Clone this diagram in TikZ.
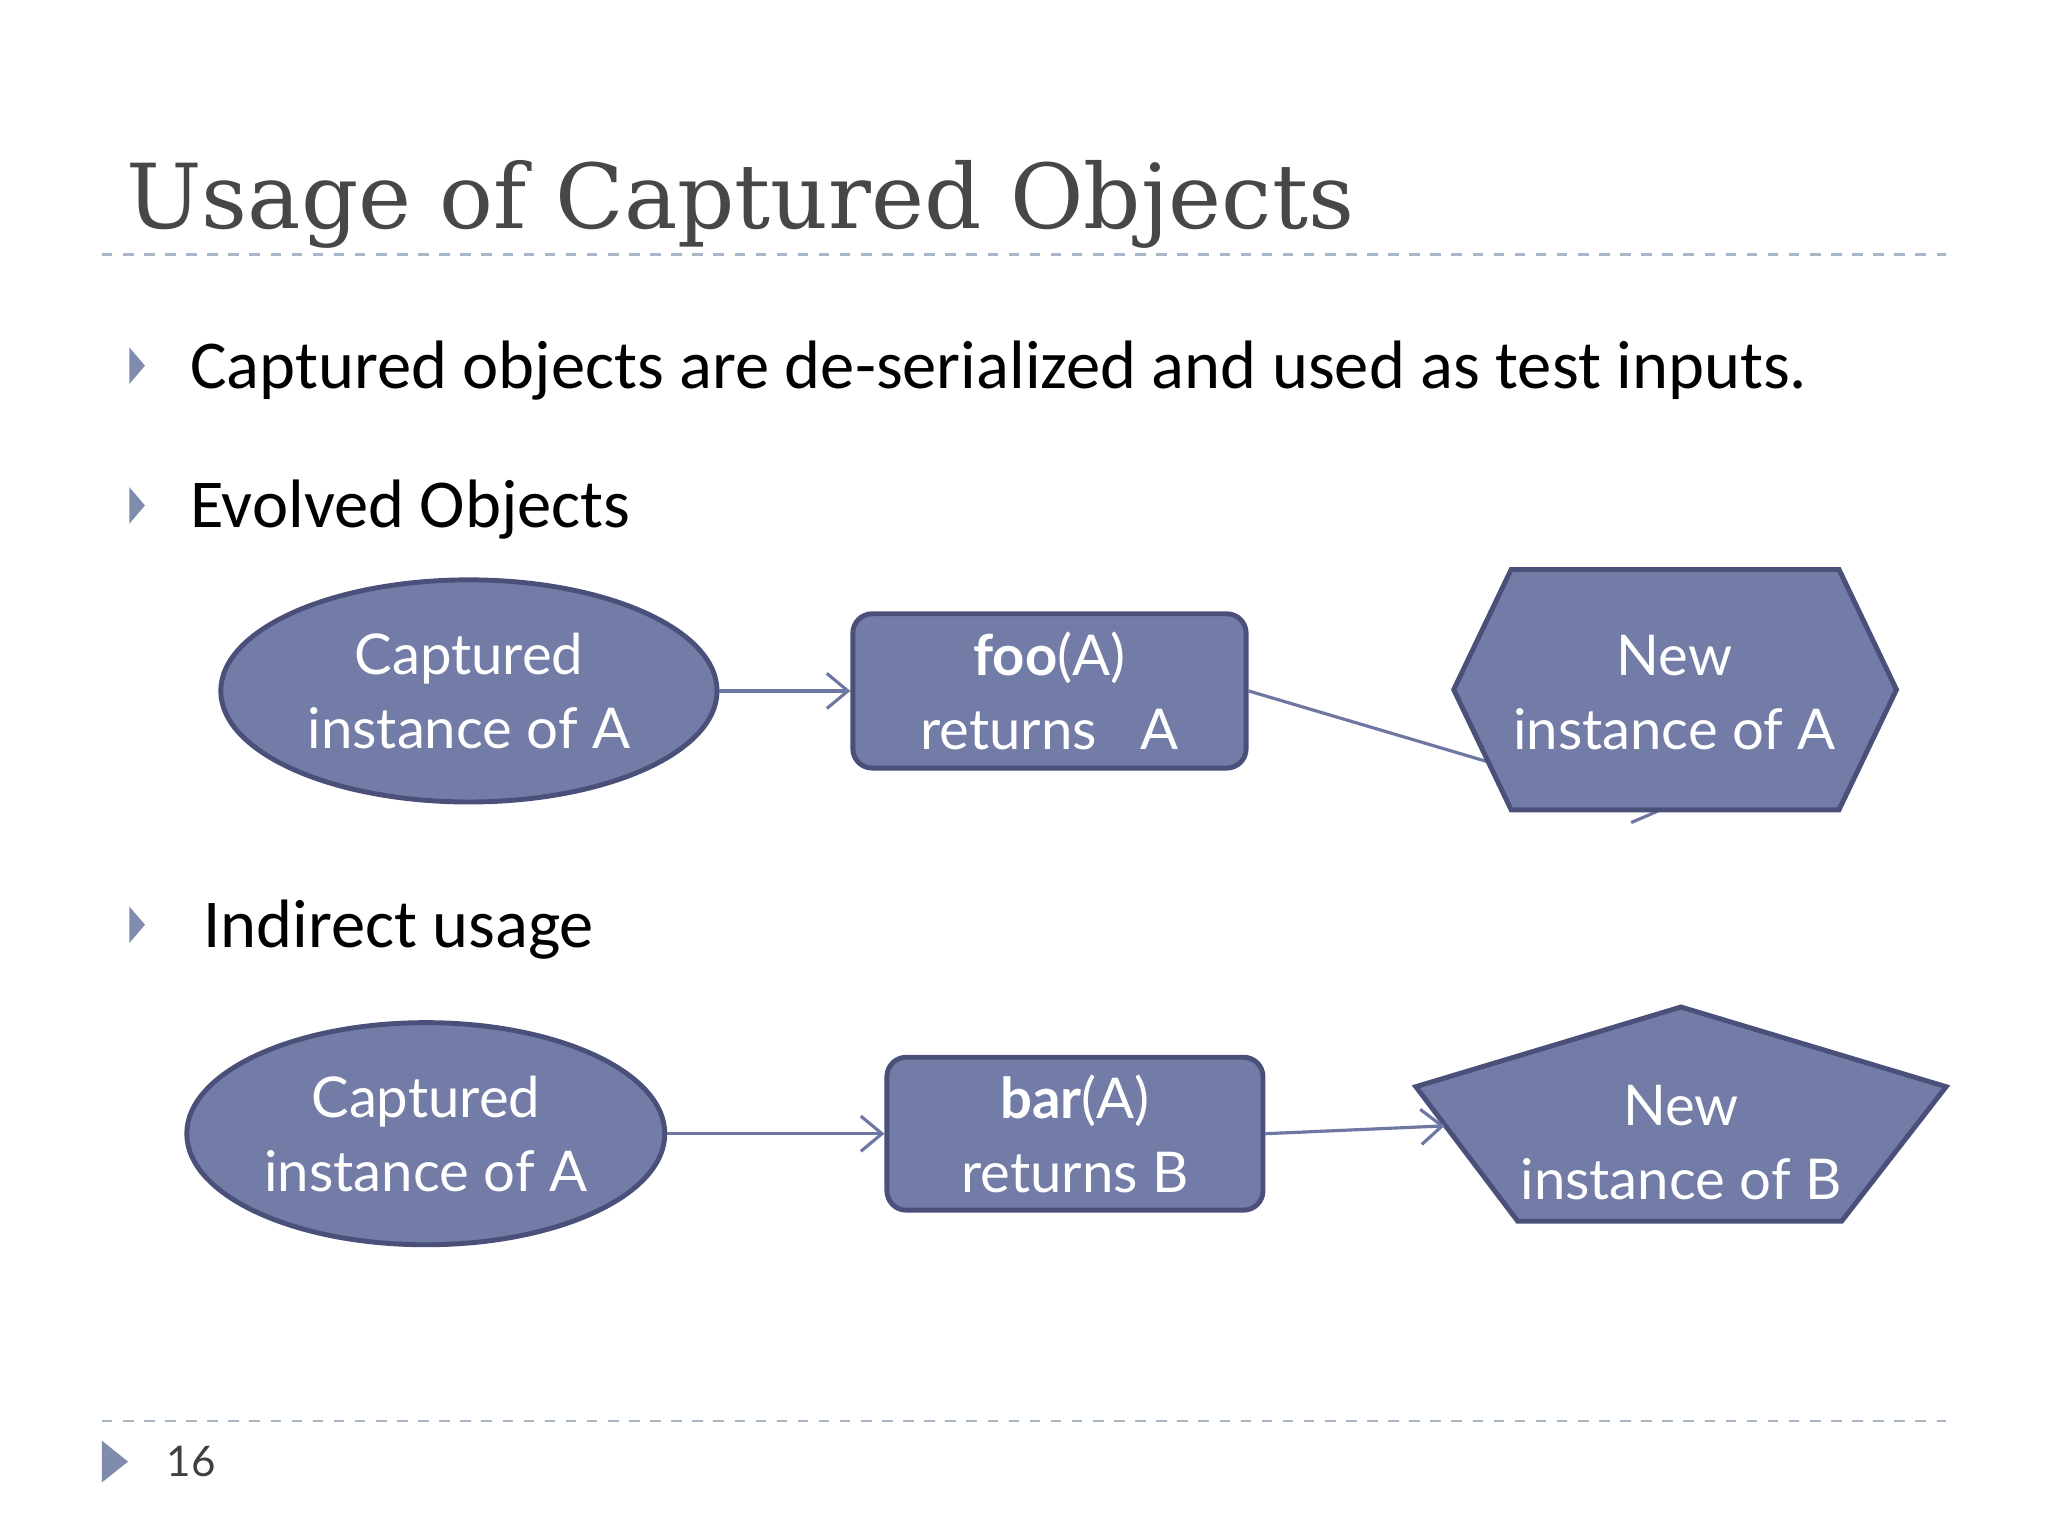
\documentclass[tikz,border=0pt]{standalone}
\usepackage{fontspec}
\setmainfont{Carlito}
\newfontfamily\titlefont{DejaVu Serif}
\newfontfamily\nodefont{Lato}
\usetikzlibrary{shapes.geometric,arrows.meta}
\definecolor{shfill}{HTML}{737CA6}
\definecolor{shdraw}{HTML}{4A5079}
\definecolor{conn}{HTML}{6E77A2}
\definecolor{dashc}{HTML}{A9B6C8}
\definecolor{bul}{HTML}{7F8CAE}
\begin{document}
\begin{tikzpicture}[x=0.013061cm,y=-0.013061cm,
  shp/.style={fill=shfill,draw=shdraw,line width=1.4pt},
  lbl/.style={text=white,font=\nodefont\fontsize{16}{21}\selectfont,align=center},
  conline/.style={draw=conn,line width=0.9pt,-{Straight Barb[length=6pt,width=10pt]}},
  bullet/.style={fill=bul},
  btext/.style={anchor=west,font=\fontsize{19.5}{24}\selectfont,text=black}]
\useasboundingbox (0,0) rectangle (1568,1176);
\fill[white] (0,0) rectangle (1568,1176);
% title
\node[anchor=base west,font=\titlefont\fontsize{25.5}{30}\selectfont,text=black!72,inner sep=0] (title) at (96,175) {Usage of Captured Objects};
\draw[dashc,dashed,line width=0.8pt] (78,195) -- (1490,195);
\draw[dashc,dashed,line width=0.8pt] (78,1088) -- (1490,1088);
% bullets
\foreach \y in {280,387,708} \fill[bullet] (99,\y-14) -- (111,\y) -- (99,\y+14) -- cycle;
\node[btext] (b1) at (136,284) {Captured objects are de-serialized and used as test inputs.};
\node[btext] (b2) at (136,390) {Evolved Objects};
\node[btext] (b3) at (146,712) {Indirect usage};
% footer
\fill[bul] (78,1103) -- (98,1119) -- (78,1135) -- cycle;
\node[anchor=west,font=\nodefont\fontsize{12}{14}\selectfont,text=black!75] (pg) at (118,1119) {16};
% row 1
\node[shp,ellipse,minimum width=141.2pt,minimum height=63.2pt,inner sep=0,lbl] (e1) at (359,529) {Captured\\instance of A};
\node[shp,rounded corners=5.5pt,minimum width=111.9pt,minimum height=43.9pt,lbl] (f1) at (803.5,529) {\textbf{foo}(A)\\returns~~ A};
\coordinate (h1tip) at (1270,622);
\draw[conline] (f1.east) -- (h1tip);
\draw[shp] (1157,436) -- (1408,436) -- (1452,528) -- (1408,620) -- (1157,620) -- (1113,528) -- cycle;
\node[lbl] (h1) at (1282,530) {New\\instance of A};
\draw[conline] (e1.east) -- (f1.west);
% row 2
\node[shp,ellipse,minimum width=136pt,minimum height=63.2pt,inner sep=0,lbl] (e2) at (326,868) {Captured\\instance of A};
\node[shp,rounded corners=5.5pt,minimum width=107pt,minimum height=43.5pt,lbl] (f2) at (823,868) {\textbf{bar}(A)\\returns B};
\draw[shp] (1287,771) -- (1490,832) -- (1410,935) -- (1162,935) -- (1084,832) -- cycle;
\node[lbl] (p2) at (1287,875) {New\\instance of B};
\coordinate (p2in) at (1106,862);
\draw[conline] (e2.east) -- (f2.west);
\draw[conline] (f2.east) -- (p2in);
\end{tikzpicture}
\end{document}
